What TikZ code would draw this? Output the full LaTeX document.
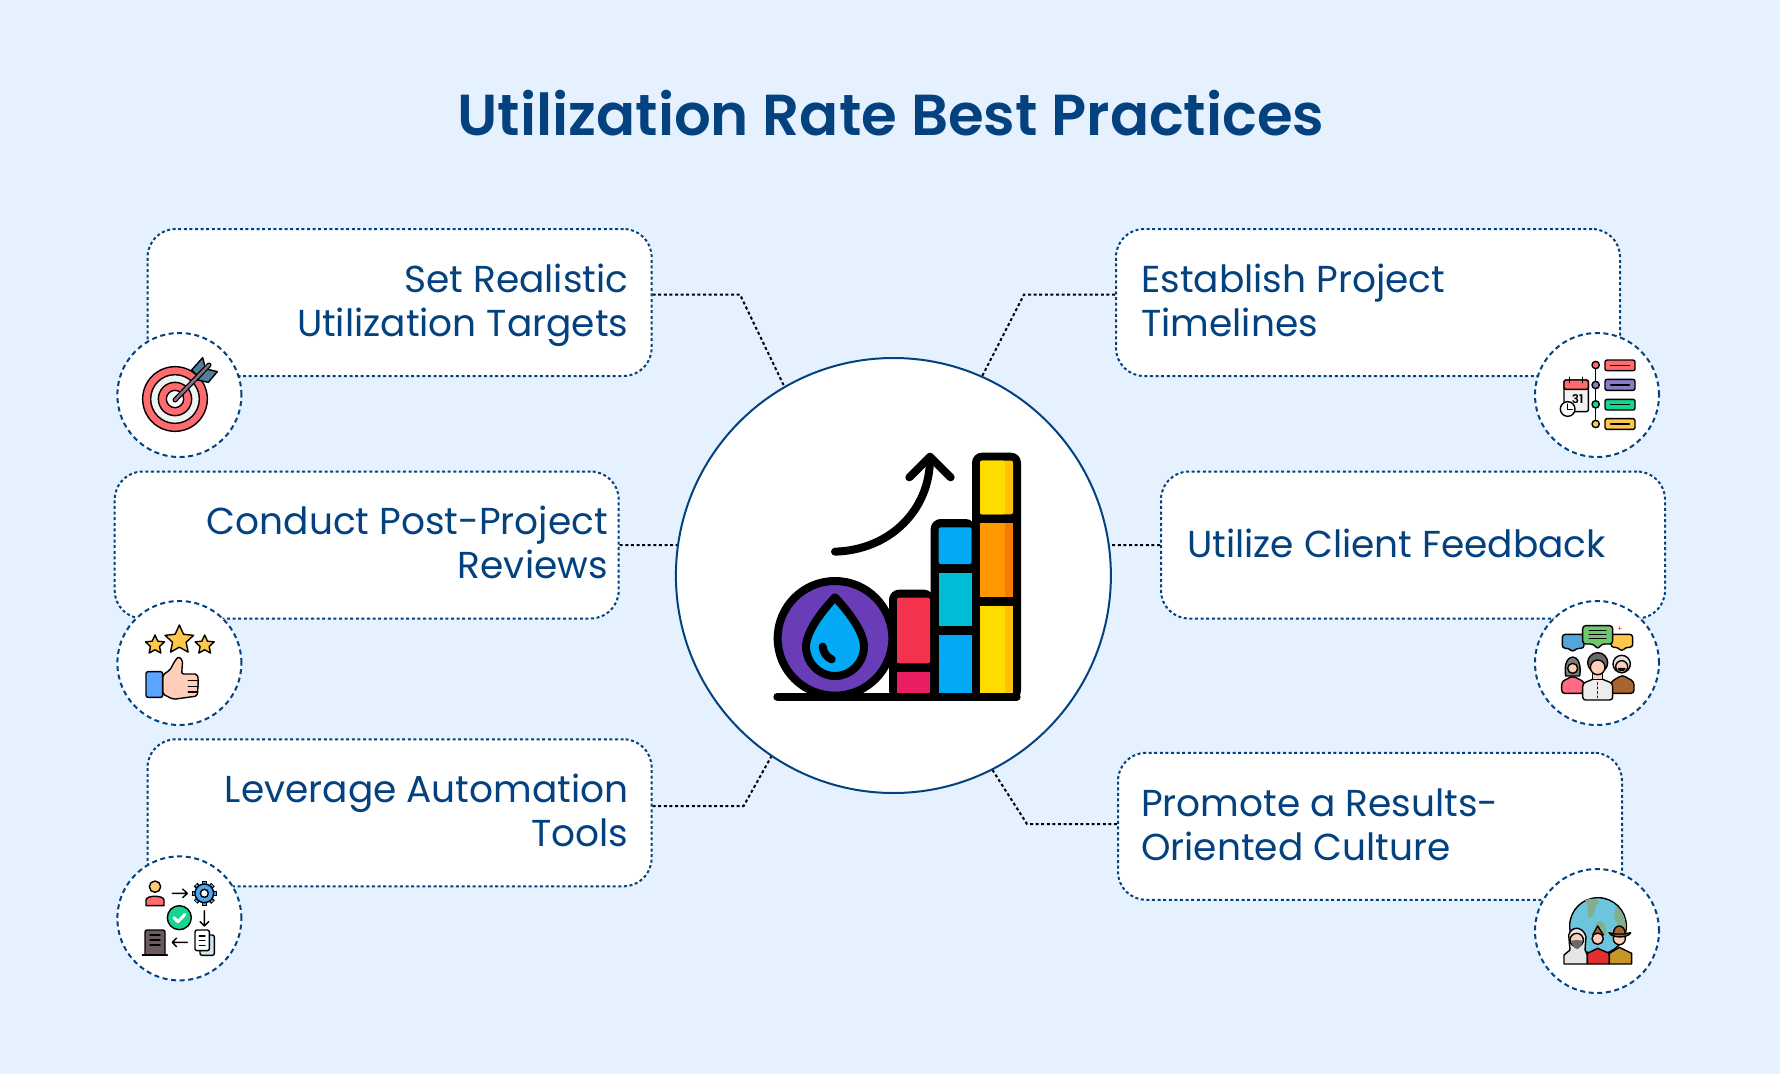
\documentclass[tikz,border=0pt]{standalone}
\usepackage{fontspec}
\setmainfont{Poppins}[BoldFont=* SemiBold]
\usepackage{xcolor}
\usetikzlibrary{positioning,calc,shapes.geometric}
\definecolor{pagebg}{HTML}{E6F1FF}
\definecolor{navy}{HTML}{03417F}
\definecolor{dropblue}{HTML}{03A9F4}
\definecolor{coral}{HTML}{FF6B6F}
\definecolor{skin}{HTML}{FFCDB8}
\definecolor{mint}{HTML}{13D68F}
\definecolor{gold}{HTML}{FFC84A}
\definecolor{purple}{HTML}{6A3DB8}
\definecolor{barred}{HTML}{F4334F}
\definecolor{barpink}{HTML}{E91E63}
\definecolor{barteal}{HTML}{00BCD4}
\definecolor{baryellow}{HTML}{FFDC00}
\definecolor{baramber}{HTML}{FFC107}
\definecolor{barorange}{HTML}{FF9800}
\definecolor{bardark}{HTML}{F57C00}
\definecolor{feather}{HTML}{4F7F9A}
\definecolor{shaft}{HTML}{827387}
\definecolor{cuff}{HTML}{5AA5FF}
\definecolor{gearblue}{HTML}{4DA6F0}
\definecolor{paleblue}{HTML}{CDE6F5}
\definecolor{tower}{HTML}{6B5B60}
\definecolor{lilac}{HTML}{8B7CC8}
\definecolor{talkblue}{HTML}{54A5D9}
\definecolor{talkgreen}{HTML}{6EC86E}
\definecolor{rosered}{HTML}{FF6B81}
\definecolor{brown}{HTML}{AA642D}
\definecolor{midgrey}{HTML}{7D7D7D}
\definecolor{darkgrey}{HTML}{696969}
\definecolor{globeblue}{HTML}{6CC5DC}
\definecolor{land}{HTML}{83AE8F}
\definecolor{vestred}{HTML}{E23030}
\definecolor{ochre}{HTML}{C89628}
\tikzset{
  practicebox/.style={draw=navy,fill=white,line width=2pt,dash pattern=on 3pt off 2.6pt,rounded corners=28pt,inner sep=0pt,minimum width=504pt,minimum height=147pt},
  iconcircle/.style={circle,draw=navy,fill=white,line width=2pt,dash pattern=on 5pt off 3.6pt,inner sep=0pt,minimum size=124pt},
  practicetext/.style={text=navy,inner sep=0pt,text height=28pt,text depth=9pt,font=\fontsize{37.5}{44}\selectfont},
  link/.style={black,line width=2pt,dash pattern=on 3pt off 2.6pt},
  bigline/.style={line width=8pt,line cap=round,line join=round},
  smallline/.style={line width=1.4pt,line cap=round,line join=round}
}
\begin{document}
\begin{tikzpicture}[x=1pt,y=-1pt]
  \useasboundingbox[fill=pagebg] (0,0) rectangle (1780,1074);

  \node[text=navy,font=\fontsize{57.8}{64}\selectfont\bfseries] (title) at (891,113.5) {Utilization Rate Best Practices};

  \node[circle,draw=navy,fill=white,line width=2pt,inner sep=0pt,minimum size=435pt] (main) at (893.4,575.5) {};

  \node[practicebox] (setbox) at (399.6,302.5) {};
  \node[practicebox] (reviewbox) at (366.7,545) {};
  \node[practicebox] (autobox) at (399.6,812.8) {};
  \node[practicebox] (timebox) at (1368,302.5) {};
  \node[practicebox] (clientbox) at (1413,545) {};
  \node[practicebox] (resultbox) at (1370,826.3) {};

  \node[practicetext,align=right,anchor=east] (settext) at (628.6,327) {Set Realistic\\Utilization Targets};
  \node[practicetext,align=right,anchor=east] (reviewtext) at (608,568.6) {Conduct Post-Project\\Reviews};
  \node[practicetext,align=right,anchor=east] (autotext) at (628.6,836.6) {Leverage Automation\\Tools};
  \node[practicetext,align=left,anchor=west] (timetext) at (1141,327) {Establish Project\\Timelines};
  \node[practicetext,align=left,anchor=west] (clienttext) at (1187,548) {Utilize Client Feedback};
  \node[practicetext,align=left,anchor=west] (resulttext) at (1141,850.6) {Promote a Results-\\Oriented Culture};

  \node[iconcircle] (targetcircle) at (179.4,395) {};
  \node[iconcircle] (thumbcircle) at (179.4,663) {};
  \node[iconcircle] (flowcircle) at (179.4,918.4) {};
  \node[iconcircle] (calcircle) at (1597,395) {};
  \node[iconcircle] (peoplecircle) at (1597,663) {};
  \node[iconcircle] (globecircle) at (1597,931) {};

  \coordinate (setbend) at (740,294.6);
  \coordinate (timebend) at (1024,294.6);
  \coordinate (autobend) at (743.6,806);
  \coordinate (resultbend) at (1027,824);

  \draw[link] (setbox.east |- setbend) -- (setbend) -- (main.120);
  \draw[link] (timebox.west |- timebend) -- (timebend) -- (main.66);
  \draw[link] (autobox.east |- autobend) -- (autobend) -- (main.236);
  \draw[link] (resultbox.west |- resultbend) -- (resultbend) -- (main.297);
  \draw[link] (reviewbox.east) -- (main.172);
  \draw[link] (clientbox.west) -- (main.8);

  \begin{scope}[shift={(740,420)},scale=1/3]
    \draw[bigline,fill=purple] (285,655) circle (172);
    \fill[black,rounded corners=10pt] (447,509) rectangle (582,842);
    \fill[black,rounded corners=10pt] (572,297) rectangle (707,842);
    \fill[black,rounded corners=10pt] (696,98) rectangle (843,842);
    \fill[barred,rounded corners=2pt] (471,533) rectangle (570,730);
    \fill[barpink] (471,755) rectangle (570,818);
    \fill[dropblue,rounded corners=2pt] (596,322) rectangle (695,432);
    \fill[barteal] (596,458) rectangle (695,619);
    \fill[dropblue] (596,644) rectangle (695,818);
    \fill[baramber,rounded corners=2pt] (720,122) rectangle (819,283);
    \fill[baryellow,rounded corners=2pt] (720,122) rectangle (795,283);
    \fill[bardark] (720,308) rectangle (819,531);
    \fill[barorange] (720,308) rectangle (795,531);
    \fill[baramber] (720,557) rectangle (819,818);
    \fill[baryellow] (720,557) rectangle (795,818);
    \draw[bigline] (112,830) -- (830,830);
    \draw[bigline,fill=dropblue] (285,532) .. controls (285,532) and (198,620) .. (198,680)
      .. controls (198,728) and (237,768) .. (285,768) .. controls (333,768) and (372,728) .. (372,680)
      .. controls (372,620) and (285,532) .. cycle;
    \draw[bigline] (248,680) .. controls (250,697) and (258,710) .. (275,718);
    \draw[bigline] (285,395) .. controls (450,390) and (570,270) .. (570,115);
    \draw[bigline] (508,172) -- (570,110) -- (632,172);
  \end{scope}

  \begin{scope}[shift={(110,325)},scale=1/3]
    \draw[smallline,fill=coral] (195,222) circle (97);
    \draw[smallline,fill=white!95!black] (195,222) circle (73);
    \draw[smallline,fill=coral] (195,222) circle (50);
    \draw[smallline,fill=white] (195,222) circle (26);
    \draw[smallline,fill=feather] (245,135) -- (278,98) -- (285,125) -- (260,150) -- cycle;
    \draw[smallline,fill=feather] (262,165) -- (295,172) -- (322,140) -- (290,132) -- cycle;
    \draw[black,line width=5pt,line cap=round] (195,225) -- (297,120);
    \draw[shaft,line width=2.6pt,line cap=round] (195,225) -- (297,120);
  \end{scope}

  \begin{scope}[shift={(110,590)},scale=1/3]
    \node[star,star points=5,star point ratio=2.1,draw,smallline,fill=gold,inner sep=0pt,minimum size=20pt] (starone) at (135,165) {};
    \node[star,star points=5,star point ratio=2.1,draw,smallline,fill=gold,inner sep=0pt,minimum size=30pt] (startwo) at (208,150) {};
    \node[star,star points=5,star point ratio=2.1,draw,smallline,fill=gold,inner sep=0pt,minimum size=20pt] (starthree) at (284,165) {};
    \draw[smallline,fill=skin,rounded corners=2pt] (158,255) -- (180,240) -- (195,212) -- (205,200) -- (218,210) -- (215,252) -- (262,252) -- (265,272) -- (262,318) -- (190,328) -- (158,312) -- cycle;
    \draw[smallline] (235,272) -- (265,272) (235,290) -- (265,290) (235,306) -- (262,306);
    \draw[smallline,fill=cuff,rounded corners=2pt] (108,245) rectangle (158,322);
  \end{scope}

  \begin{scope}[shift={(110,850)},scale=1/3]
    \draw[smallline,fill=coral] (108,167) -- (108,150) .. controls (108,135) and (162,135) .. (162,150) -- (162,167) -- cycle;
    \draw[smallline,fill=gold!60!skin] (135,110) circle (17);
    \draw[smallline] (187,130) -- (232,130) (218,117) -- (232,130) -- (218,143);
    \begin{scope}[shift={(283,130)}]
      \foreach \a in {0,45,...,315} \draw[black,line width=5pt] (\a:24) -- (\a:37);
      \foreach \a in {0,45,...,315} \draw[gearblue,line width=2.4pt] (\a:24) -- (\a:35);
      \draw[smallline,fill=gearblue] (0,0) circle (28);
      \draw[smallline,fill=white] (0,0) circle (12);
    \end{scope}
    \draw[smallline] (283,182) -- (283,228) (270,215) -- (283,228) -- (296,215);
    \draw[smallline,fill=mint] (208,203) circle (36);
    \draw[white,line width=3pt,line cap=round,line join=round] (192,203) -- (204,215) -- (225,193);
    \draw[smallline,fill=paleblue,rounded corners=2pt] (270,255) rectangle (313,316);
    \draw[smallline,fill=white,rounded corners=2pt] (255,240) rectangle (298,302);
    \draw[smallline] (268,258) -- (285,258) (268,272) -- (285,272) (268,286) -- (285,286);
    \draw[smallline] (232,277) -- (187,277) (200,264) -- (187,277) -- (200,290);
    \draw[smallline,fill=tower,rounded corners=2pt] (105,315) -- (105,240) -- (165,240) -- (165,315);
    \draw[smallline] (120,255) -- (150,255) (120,270) -- (150,270) (120,285) -- (150,285) (97,315) -- (172,315);
  \end{scope}

  \begin{scope}[shift={(1510,320)},scale=1/3]
    \draw[smallline] (257,135) -- (257,312);
    \draw[smallline,fill=coral] (257,135) circle (11);
    \draw[smallline,fill=lilac] (257,195) circle (11);
    \draw[smallline,fill=mint] (257,253) circle (11);
    \draw[smallline,fill=gold] (257,312) circle (11);
    \draw[smallline,fill=coral,rounded corners=2pt] (285,120) rectangle (375,152);
    \draw[smallline,fill=lilac,rounded corners=2pt] (285,178) rectangle (375,211);
    \draw[smallline,fill=mint,rounded corners=2pt] (285,238) rectangle (375,270);
    \draw[smallline,fill=gold,rounded corners=2pt] (285,296) rectangle (375,328);
    \draw[smallline] (302,136) -- (358,136) (302,195) -- (358,195) (302,254) -- (358,254) (302,312) -- (358,312);
    \draw[smallline,fill=white!95!black,rounded corners=2pt] (162,180) rectangle (235,275);
    \draw[smallline,fill=coral,rounded corners=2pt] (162,180) rectangle (235,208);
    \draw[smallline] (178,172) -- (178,188) (218,172) -- (218,188);
    \node[inner sep=0pt,font=\fontsize{12}{12}\selectfont\bfseries] (calday) at (203,238) {31};
    \draw[smallline,fill=white] (173,267) circle (22);
    \draw[smallline] (173,252) -- (173,268) -- (187,268);
  \end{scope}

  \begin{scope}[shift={(1510,590)},scale=1/3]
    \draw[smallline,fill=talkblue,rounded corners=3pt] (157,133) -- (222,133) -- (222,175) -- (198,175) -- (188,187) -- (178,175) -- (157,175) -- cycle;
    \draw[smallline,fill=gold,rounded corners=3pt] (303,133) -- (368,133) -- (368,172) -- (346,172) -- (335,185) -- (324,172) -- (303,172) -- cycle;
    \draw[smallline,fill=talkgreen,rounded corners=3pt] (218,107) -- (308,107) -- (308,162) -- (275,162) -- (263,178) -- (251,162) -- (218,162) -- cycle;
    \draw[smallline] (238,122) -- (288,122) (238,134) -- (288,134) (238,146) -- (288,146);
    \draw[rosered,line width=1.2pt] (323,115) -- (335,115) (329,109) -- (329,121);
    \draw[smallline,fill=rosered,rounded corners=3pt] (155,310) -- (155,275) -- (188,258) -- (222,275) -- (222,310) -- cycle;
    \draw[smallline,fill=midgrey] (167,258) .. controls (155,182) and (221,182) .. (209,258) -- cycle;
    \draw[smallline,fill=skin] (188,235) circle (15);
    \draw[smallline,fill=brown,rounded corners=3pt] (303,310) -- (303,275) -- (337,255) -- (372,275) -- (372,310) -- cycle;
    \draw[smallline,fill=white!90!black] (335,222) circle (26);
    \draw[smallline,fill=skin] (335,230) circle (18);
    \draw[smallline,fill=tower] (325,236) -- (345,236) -- (340,241) -- (330,241) -- cycle;
    \draw[smallline,fill=white!93!black,rounded corners=3pt] (218,330) -- (218,280) -- (263,262) -- (308,280) -- (308,330) -- cycle;
    \draw[smallline,fill=skin] (248,245) rectangle (278,268);
    \draw[smallline,fill=darkgrey] (263,218) circle (30);
    \draw[smallline,fill=skin] (263,232) circle (22);
    \draw[smallline,dash pattern=on 1.5pt off 3pt] (263,278) -- (263,322);
  \end{scope}

  \begin{scope}[shift={(1510,860)},scale=1/3]
    \draw[smallline,fill=globeblue] (264,198) circle (85);
    \fill[land] (225,122) .. controls (240,110) and (270,118) .. (268,125) .. controls (250,135) and (262,160) .. (240,175) .. controls (225,160) and (240,140) .. (225,122) -- cycle;
    \fill[land] (320,140) .. controls (345,160) and (350,190) .. (345,215) .. controls (325,205) and (300,170) .. (320,140) -- cycle;
    \fill[land] (258,190) .. controls (275,170) and (290,195) .. (290,225) -- (250,225) -- cycle;
    \draw[smallline,fill=white!90!black] (162,312) -- (162,285) -- (180,270) -- (176,225) .. controls (185,195) and (220,200) .. (228,230) -- (225,270) -- (232,285) -- (232,312) -- cycle;
    \draw[smallline,fill=skin] (200,240) circle (20);
    \fill[darkgrey] (183,242) .. controls (190,275) and (212,275) .. (218,242) -- (200,240) -- cycle;
    \draw[smallline,fill=vestred] (232,312) -- (232,280) -- (263,265) -- (298,280) -- (298,312) -- cycle;
    \draw[smallline,fill=brown] (248,225) -- (263,198) -- (280,225) -- cycle;
    \draw[smallline,fill=skin] (263,236) circle (17);
    \draw[smallline,fill=ochre] (298,312) -- (298,280) -- (328,262) -- (365,280) -- (365,312) -- cycle;
    \draw[smallline,fill=skin] (328,236) circle (18);
    \draw[smallline,fill=brown] (297,218) .. controls (305,222) and (350,222) .. (362,218) .. controls (355,235) and (305,235) .. (297,218) -- cycle;
    \draw[smallline,fill=brown] (310,222) .. controls (310,190) and (345,190) .. (346,222) -- cycle;
  \end{scope}
\end{tikzpicture}
\end{document}
